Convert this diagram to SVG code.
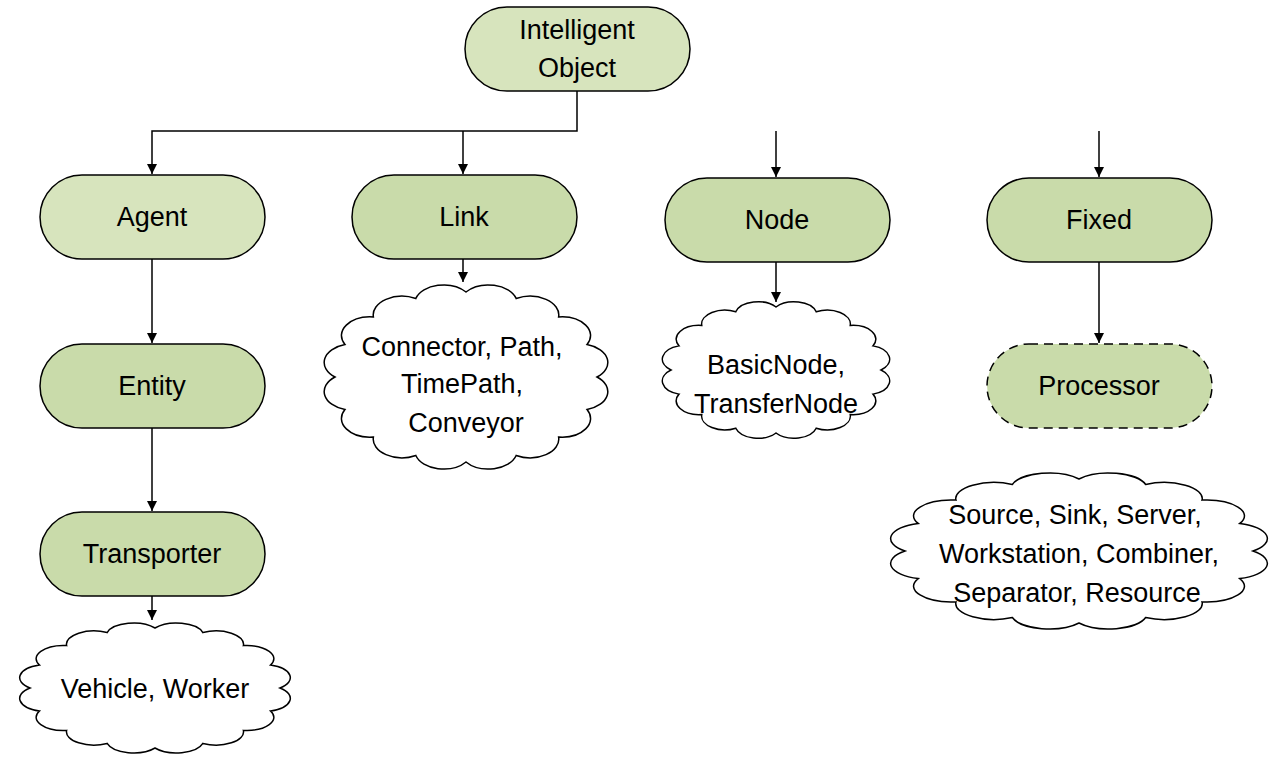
<svg xmlns="http://www.w3.org/2000/svg" width="1278" height="766" viewBox="0 0 1278 766">
<style>
.n{stroke:#000;stroke-width:1.5;fill:#c9dbaa}
.l{fill:#d7e4bd}
.d{stroke-dasharray:9,6}
.c{fill:#fff;stroke:#000;stroke-width:1.5}
text{font-family:"Liberation Sans",Arial,sans-serif;font-size:27px;text-anchor:middle;fill:#000}
.e{fill:none;stroke:#000;stroke-width:1.5;marker-end:url(#a)}
</style>
<defs>
<marker id="a" markerWidth="12" markerHeight="12" refX="10" refY="5" orient="auto" markerUnits="userSpaceOnUse"><path d="M0,0L10,5L0,10z"/></marker>
<path id="cl" vector-effect="non-scaling-stroke" d="M1,0A0.22,0.22 0 0 1 0.924,0.383A0.22,0.22 0 0 1 0.707,0.707A0.22,0.22 0 0 1 0.383,0.924A0.22,0.22 0 0 1 0,1A0.22,0.22 0 0 1 -0.383,0.924A0.22,0.22 0 0 1 -0.707,0.707A0.22,0.22 0 0 1 -0.924,0.383A0.22,0.22 0 0 1 -1,0A0.22,0.22 0 0 1 -0.924,-0.383A0.22,0.22 0 0 1 -0.707,-0.707A0.22,0.22 0 0 1 -0.383,-0.924A0.22,0.22 0 0 1 0,-1A0.22,0.22 0 0 1 0.383,-0.924A0.22,0.22 0 0 1 0.707,-0.707A0.22,0.22 0 0 1 0.924,-0.383A0.22,0.22 0 0 1 1,0Z"/>
</defs>
<g id="connectors">
<path class="e" d="M577,91V131H152V174"/>
<path class="e" d="M463,131V174"/>
<path class="e" d="M776,131V177"/>
<path class="e" d="M1099,131V177"/>
<path class="e" d="M152,259V343"/>
<path class="e" d="M152,428V511"/>
<path class="e" d="M152,596V620"/>
<path class="e" d="M463,259V282"/>
<path class="e" d="M776,262V302"/>
<path class="e" d="M1099,262V343"/>
</g>
<g id="intelligent-object"><rect class="n l" x="465" y="7" width="225" height="84" rx="42"/><text x="577" y="39">Intelligent</text><text x="577" y="77">Object</text></g>
<g id="agent"><rect class="n l" x="40" y="175" width="225" height="84" rx="42"/><text x="152" y="226">Agent</text></g>
<g id="link"><rect class="n" x="352" y="175" width="225" height="84" rx="42"/><text x="464" y="226">Link</text></g>
<g id="node"><rect class="n" x="665" y="178" width="225" height="84" rx="42"/><text x="777" y="229">Node</text></g>
<g id="fixed"><rect class="n" x="987" y="178" width="225" height="84" rx="42"/><text x="1099" y="229">Fixed</text></g>
<g id="entity"><rect class="n" x="40" y="344" width="225" height="84" rx="42"/><text x="152" y="395">Entity</text></g>
<g id="transporter"><rect class="n" x="40" y="512" width="225" height="84" rx="42"/><text x="152" y="563">Transporter</text></g>
<g id="processor"><rect class="n d" x="987" y="344" width="225" height="84" rx="42"/><text x="1099" y="395">Processor</text></g>
<g id="vehicle-cloud"><use href="#cl" class="c" transform="translate(155,688) scale(125,60)"/><text x="155" y="698">Vehicle, Worker</text></g>
<g id="link-cloud"><use href="#cl" class="c" transform="translate(466,377) scale(131,85)"/><text x="462" y="356">Connector, Path,</text><text x="462" y="393">TimePath,</text><text x="466" y="432">Conveyor</text></g>
<g id="node-cloud"><use href="#cl" class="c" transform="translate(776,370) scale(105,63)"/><text x="776" y="374">BasicNode,</text><text x="776" y="413">TransferNode</text></g>
<g id="fixed-cloud"><use href="#cl" class="c" transform="translate(1079,551) scale(174,72)"/><text x="1075" y="524">Source, Sink, Server,</text><text x="1079" y="563">Workstation, Combiner,</text><text x="1077" y="602">Separator, Resource</text></g>
</svg>
